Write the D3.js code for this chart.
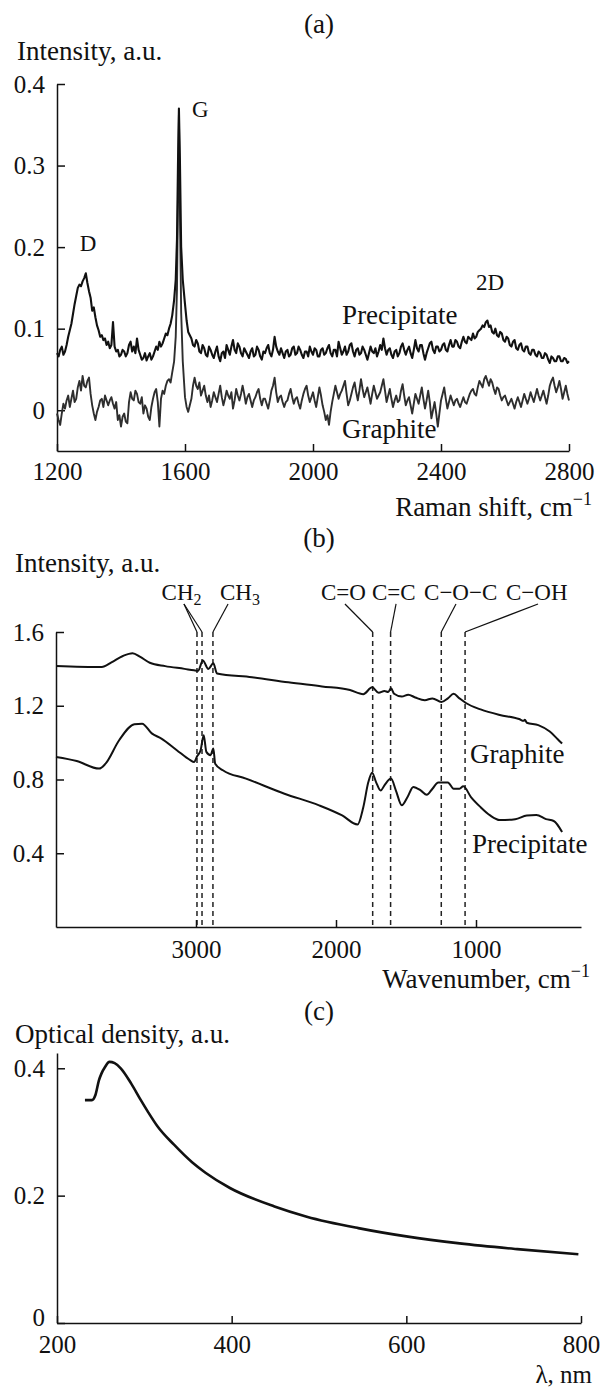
<!DOCTYPE html>
<html>
<head>
<meta charset="utf-8">
<script src="https://cdnjs.cloudflare.com/ajax/libs/d3/7.8.5/d3.min.js"></script>
<style>
  body { margin: 0; background: #fff; }
  svg text { font-family: "Liberation Serif", "Times New Roman", serif; fill: #111; }
</style>
</head>
<body>
<svg width="600" height="1389"></svg>
<script>
// ---- (a) Raman spectra ----
const ramanShift = [
  1200,1205,1210,1215,1220,1225,1230,1235,1240,1245,1250,1255,1260,1265,1270,1275,1280,1285,1290,1295,
  1300,1305,1310,1315,1320,1325,1330,1335,1340,1345,1350,1355,1360,1365,1370,1375,1380,1385,1390,1395,
  1400,1405,1410,1415,1420,1425,1430,1435,1440,1445,1450,1455,1460,1465,1470,1475,1480,1485,1490,1495,
  1500,1505,1510,1515,1520,1525,1530,1535,1540,1545,1550,1555,1560,
  1566,1571,1575,1578,1581,1584,1588,1593,
  1600,1605,1610,1615,1620,1625,1630,1635,1640,1645,1650,1655,1660,1665,1670,1675,1680,1685,1690,1695,
  1700,1705,1710,1715,1720,1725,1730,1735,1740,1745,1750,1755,1760,1765,1770,1775,1780,1785,1790,1795,
  1800,1805,1810,1815,1820,1825,1830,1835,1840,1845,1850,1855,1860,1865,1870,1875,1880,1885,1890,1895,
  1900,1905,1910,1915,1920,1925,1930,1935,1940,1945,1950,1955,1960,1965,1970,1975,1980,1985,1990,1995,
  2000,2005,2010,2015,2020,2025,2030,2035,2040,2045,2050,2055,2060,2065,2070,2075,2080,2085,2090,2095,
  2100,2105,2110,2115,2120,2125,2130,2135,2140,2145,2150,2155,2160,2165,2170,2175,2180,2185,2190,2195,
  2200,2205,2210,2215,2220,2225,2230,2235,2240,2245,2250,2255,2260,2265,2270,2275,2280,2285,2290,2295,
  2300,2305,2310,2315,2320,2325,2330,2335,2340,2345,2350,2355,2360,2365,2370,2375,2380,2385,2390,2395,
  2400,2405,2410,2415,2420,2425,2430,2435,2440,2445,2450,2455,2460,2465,2470,2475,2480,2485,2490,2495,
  2500,2505,2510,2515,2520,2525,2530,2535,2540,2545,2550,2555,2560,2565,2570,2575,2580,2585,2590,2595,
  2600,2605,2610,2615,2620,2625,2630,2635,2640,2645,2650,2655,2660,2665,2670,2675,2680,2685,2690,2695,
  2700,2705,2710,2715,2720,2725,2730,2735,2740,2745,2750,2755,2760,2765,2770,2775,2780,2785,2790,2795,
  2800
];
const ramanPrecipitate = [
  .070,.066,.074,.078,.068,.072,.080,.090,.098,.106,.118,.130,.140,.150,.154,.152,.158,.162,.168,.156,
  .146,.138,.122,.126,.114,.104,.098,.090,.092,.086,.088,.080,.084,.076,.080,.108,.078,.072,.074,.066,
  .068,.074,.072,.066,.070,.080,.084,.072,.078,.070,.088,.074,.068,.062,.064,.070,.061,.066,.070,.062,
  .066,.072,.078,.074,.084,.078,.082,.088,.094,.092,.100,.106,.116,
  .135,.160,.210,.300,.370,.310,.200,.160,
  .130,.110,.096,.092,.088,.080,.078,.086,.082,.072,.070,.080,.076,.068,.066,.078,.074,.068,.064,.072,
  .078,.066,.060,.070,.072,.064,.080,.074,.068,.078,.086,.074,.070,.082,.078,.070,.066,.076,.072,.068,
  .064,.072,.076,.066,.068,.078,.074,.066,.062,.072,.070,.076,.080,.070,.066,.074,.090,.078,.072,.068,
  .076,.070,.064,.072,.074,.066,.068,.076,.078,.068,.070,.078,.074,.068,.064,.072,.072,.066,.078,.072,
  .068,.076,.074,.066,.066,.074,.076,.068,.070,.076,.080,.070,.066,.074,.074,.066,.084,.076,.068,.072,
  .078,.068,.072,.080,.082,.072,.066,.074,.076,.068,.070,.078,.074,.068,.062,.070,.078,.072,.070,.076,
  .066,.072,.080,.074,.088,.076,.068,.074,.076,.068,.064,.072,.074,.066,.070,.078,.082,.074,.068,.074,
  .078,.070,.064,.074,.086,.076,.072,.080,.080,.070,.062,.070,.076,.082,.084,.074,.070,.078,.078,.072,
  .074,.080,.082,.074,.072,.080,.086,.078,.078,.086,.084,.078,.076,.084,.090,.084,.082,.090,.088,.086,
  .094,.088,.090,.096,.098,.100,.104,.102,.108,.110,.102,.104,.096,.094,.100,.092,.090,.096,.094,.086,
  .084,.090,.088,.080,.078,.084,.086,.076,.074,.080,.082,.074,.072,.078,.078,.070,.068,.074,.074,.068,
  .066,.072,.070,.064,.064,.070,.068,.062,.058,.066,.064,.060,.060,.066,.066,.060,.060,.064,.063,.058,
  .060
];
const ramanGraphite = [
  -.004,-.012,-.018,-.004,.008,.002,.012,.018,.004,.014,.024,.010,.014,.028,.036,.024,.042,.030,.028,.036,
  .040,.020,.006,-.004,-.012,-.002,.004,.012,.014,.004,.018,.012,.006,.012,.016,.008,.002,.010,-.012,-.006,
  -.020,-.008,-.004,-.014,-.016,.010,.022,.014,.012,.024,.020,.010,.008,.016,-.004,.006,.002,-.008,-.012,.004,
  .014,.022,.026,.010,-.020,.014,.024,.020,.030,.036,.038,.034,.046,
  .060,.090,.150,.260,.362,.250,.120,.060,
  .016,.004,-.002,.006,.014,.030,.040,.030,.026,.034,.018,.024,.030,.018,.010,.018,.004,.012,.022,.016,
  .010,.020,.030,.016,.006,.014,.024,.018,.014,.022,.002,.012,.026,.018,.012,.020,.030,.020,.008,.016,
  .020,.012,.004,.012,.016,.022,.026,.014,.006,.014,.014,.008,.002,.012,.024,.030,.040,.022,.010,.016,
  .018,.010,.004,.010,.012,.020,.026,.016,.008,.014,.016,.008,.002,.012,.020,.026,.030,.018,.010,.016,
  .022,.012,.004,.016,.028,.018,.006,-.002,-.012,-.006,-.018,-.002,.010,.020,.030,.022,.014,.020,.024,.030,
  .036,.020,.006,.012,.020,.028,.034,.022,.012,.024,.038,.026,.016,.022,.028,.018,.008,.020,.030,.022,
  .014,.018,.022,.030,.038,.024,.010,.018,.026,.014,.004,.012,.018,.010,.012,.024,.032,.018,.006,.012,
  .016,.006,-.004,.008,.020,.014,.008,.018,.028,.014,.002,.012,.024,.010,-.010,.000,.010,-.004,-.020,-.004,
  .012,.020,.028,.014,.002,.010,.018,.012,.006,.012,.014,.008,.004,.010,.016,.010,.008,.014,.020,.024,
  .026,.020,.018,.028,.036,.032,.028,.038,.042,.036,.030,.038,.034,.026,.020,.028,.026,.018,.012,.016,
  .018,.012,.006,.010,.014,.008,.002,.010,.016,.010,.004,.012,.020,.014,.008,.014,.022,.016,.010,.018,
  .026,.018,.012,.018,.024,.016,.008,.018,.030,.036,.040,.030,.022,.028,.036,.026,.014,.022,.030,.020,
  .012
];
const ramanXTicks = [1200, 1600, 2000, 2400, 2800];
const ramanYTicks = [0, 0.1, 0.2, 0.3, 0.4];

// ---- (b) IR spectra: [wavenumber, intensity] ----
const irGraphite = [
  [4000,1.416],[3673,1.410],[3604,1.435],[3522,1.470],[3453,1.485],[3398,1.465],[3330,1.433],[3220,1.415],
  [3082,1.400],[3014,1.392],[2985,1.390],[2951,1.445],[2912,1.400],[2876,1.430],[2850,1.375],[2600,1.355],
  [2341,1.327],[2100,1.305],[1900,1.285],[1805,1.263],[1742,1.300],[1695,1.270],[1654,1.280],[1627,1.275],
  [1607,1.295],[1585,1.265],[1530,1.250],[1484,1.260],[1434,1.245],[1366,1.230],[1311,1.240],[1247,1.220],
  [1201,1.240],[1160,1.265],[1118,1.240],[1072,1.215],[967,1.180],[830,1.150],[692,1.128],[660,1.118],
  [651,1.124],[637,1.108],[555,1.095],[473,1.060],[418,1.020],[385,0.995]
];
const irPrecipitate = [
  [4000,0.922],[3852,0.900],[3692,0.859],[3646,0.886],[3549,1.013],[3440,1.100],[3385,1.103],[3316,1.050],
  [3247,1.022],[3137,0.959],[3041,0.905],[3014,0.895],[2992,0.926],[2967,0.959],[2945,1.040],[2926,0.950],
  [2896,0.932],[2876,0.968],[2863,0.886],[2808,0.850],[2643,0.805],[2368,0.723],[2121,0.660],[1956,0.605],
  [1846,0.556],[1805,0.650],[1769,0.786],[1742,0.837],[1714,0.786],[1681,0.740],[1654,0.768],[1607,0.805],
  [1572,0.740],[1530,0.660],[1489,0.705],[1448,0.760],[1393,0.740],[1352,0.717],[1311,0.750],[1269,0.784],
  [1201,0.784],[1160,0.750],[1118,0.750],[1091,0.763],[1036,0.705],[967,0.650],[899,0.605],[830,0.580],
  [720,0.585],[637,0.605],[569,0.608],[500,0.585],[445,0.575],[385,0.515]
];
const irBands = [2993, 2957, 2879, 1738, 1610, 1248, 1078];
const irXTicks = [3000, 2000, 1000];
const irYTicks = [0.4, 0.8, 1.2, 1.6];

// ---- (c) UV-vis: [wavelength, optical density] ----
const uvSpectrum = [
  [232,0.350],[240,0.350],[244,0.358],[248,0.381],[251,0.392],[255,0.402],[260,0.410],[266,0.408],
  [273,0.400],[285,0.376],[296,0.350],[304,0.332],[315,0.309],[334,0.280],[355,0.252],[370,0.236],
  [398,0.212],[449,0.183],[486,0.167],[545,0.149],[600,0.136],[661,0.125],[727,0.116],[797,0.108]
];
const uvXTicks = [200, 400, 600, 800];
const uvYTicks = [0, 0.2, 0.4];

const svg = d3.select('svg');
const font = '"Liberation Serif", "Times New Roman", serif';
const ink = '#111';

const fmt = d => d === 0 ? '0' : d3.format('.1f')(d);

function axes(x, y, xTicks, yTicks, xPad) {
    const y0 = y.range()[0];
    const x0 = x.range()[0];
    const xg = svg.append('g')
        .attr('transform', `translate(0,${y0})`)
        .call(d3.axisBottom(x).tickValues(xTicks).tickFormat(d3.format('d'))
            .tickSizeInner(-7).tickSizeOuter(0).tickPadding(xPad));
    const yg = svg.append('g')
        .attr('transform', `translate(${x0},0)`)
        .call(d3.axisLeft(y).tickValues(yTicks).tickFormat(fmt)
            .tickSizeInner(-8).tickSizeOuter(0).tickPadding(12));
    [xg, yg].forEach(g => {
        g.attr('font-family', font).attr('font-size', 25);
        g.selectAll('.domain, .tick line').attr('stroke', ink).attr('stroke-width', 1.5);
        g.selectAll('text').attr('fill', ink);
    });
    return yg;
}

function label(x, y, str, size, anchor) {
    return svg.append('text')
        .attr('x', x).attr('y', y)
        .attr('font-size', size)
        .attr('text-anchor', anchor || 'start')
        .text(str);
}

function unitLabel(xEnd, y, main, sup, size) {
    const t = svg.append('text')
        .attr('x', xEnd).attr('y', y)
        .attr('font-size', size || 27)
        .attr('text-anchor', 'end');
    t.append('tspan').text(main);
    if (sup) t.append('tspan').attr('dy', -11).attr('font-size', 18).text(sup);
}

// ---------- (a) ----------
const xA = d3.scaleLinear().domain([1200, 2800]).range([57, 569]);
const yA = d3.scaleLinear().domain([-0.05, 0.4]).range([451, 84]);
axes(xA, yA, ramanXTicks, ramanYTicks, 11);

const nA = Math.min(ramanShift.length, ramanPrecipitate.length, ramanGraphite.length);
const lineA = d3.line().x(d => xA(d[0])).y(d => yA(d[1]));
svg.append('path')
    .datum(ramanShift.slice(0, nA).map((s, i) => [s, ramanGraphite[i]]))
    .attr('d', lineA).attr('fill', 'none')
    .attr('stroke', '#2e2e2e').attr('stroke-width', 1.9).attr('stroke-linejoin', 'round');
svg.append('path')
    .datum(ramanShift.slice(0, nA).map((s, i) => [s, ramanPrecipitate[i]]))
    .attr('d', lineA).attr('fill', 'none')
    .attr('stroke', ink).attr('stroke-width', 2.1).attr('stroke-linejoin', 'round');

label(319, 33, '(a)', 27, 'middle');
label(17, 60, 'Intensity, a.u.', 27);
unitLabel(592, 516, 'Raman shift, cm', '\u22121');
label(xA(1297), yA(0.195), 'D', 23, 'middle');
label(xA(1622), yA(0.36), 'G', 23);
label(xA(2509), yA(0.147), '2D', 23);
label(xA(2091), yA(0.106), 'Precipitate', 27);
label(xA(2091), yA(-0.034), 'Graphite', 27);

// ---------- (b) ----------
const xB = d3.scaleLinear().domain([4000, 250]).range([56, 581]);
const yB = d3.scaleLinear().domain([0, 1.6]).range([927, 632]);

svg.append('g').selectAll('line').data(irBands).enter().append('line')
    .attr('x1', d => xB(d)).attr('x2', d => xB(d))
    .attr('y1', yB(1.6)).attr('y2', yB(0))
    .attr('stroke', '#222').attr('stroke-width', 1.5).attr('stroke-dasharray', '5,4');

axes(xB, yB, irXTicks, irYTicks, 13);

const lineB = d3.line().x(d => xB(d[0])).y(d => yB(d[1])).curve(d3.curveMonotoneX);
[irGraphite, irPrecipitate].forEach(s => {
    svg.append('path').datum(s).attr('d', lineB).attr('fill', 'none')
        .attr('stroke', ink).attr('stroke-width', 2).attr('stroke-linejoin', 'round');
});

// band labels: text start, leader start, bands pointed at
const bandNotes = [
    { parts: ['CH', '2'], at: 3246, from: 3086, to: [0, 1] },
    { parts: ['CH', '3'], at: 2829, from: 2771, to: [2] },
    { parts: ['C=O'], at: 2107, from: 1936, to: [3] },
    { parts: ['C=C'], at: 1743, from: 1571, to: [4] },
    { parts: ['C\u2212O\u2212C'], at: 1371, from: 1143, to: [5] },
    { parts: ['C\u2212OH'], at: 786, from: 557, to: [6] }
];
bandNotes.forEach(n => {
    const t = svg.append('text').attr('x', xB(n.at)).attr('y', yB(1.773)).attr('font-size', 23);
    t.append('tspan').text(n.parts[0]);
    if (n.parts[1]) t.append('tspan').attr('dy', 5).attr('font-size', 16).text(n.parts[1]);
    n.to.forEach(k => {
        svg.append('line')
            .attr('x1', xB(n.from)).attr('y1', yB(1.752))
            .attr('x2', xB(irBands[k])).attr('y2', yB(1.6))
            .attr('stroke', ink).attr('stroke-width', 1.2);
    });
});

label(319, 547, '(b)', 27, 'middle');
label(15, 572, 'Intensity, a.u.', 27);
unitLabel(590, 988, 'Wavenumber, cm', '\u22121');
label(xB(1043), yB(0.89), 'Graphite', 27);
label(xB(1029), yB(0.40), 'Precipitate', 27);

// ---------- (c) ----------
const xC = d3.scaleLinear().domain([200, 800]).range([57, 581]);
const yC = d3.scaleLinear().domain([0, 0.424]).range([1323, 1053]);
const ygC = axes(xC, yC, uvXTicks, uvYTicks, 12.25);
ygC.selectAll('.tick text').filter(d => d === 0).attr('dy', '0.08em');

svg.append('path').datum(uvSpectrum)
    .attr('d', d3.line().x(d => xC(d[0])).y(d => yC(d[1])).curve(d3.curveMonotoneX))
    .attr('fill', 'none').attr('stroke', ink).attr('stroke-width', 2.6);

label(319, 1020, '(c)', 27, 'middle');
label(15, 1043, 'Optical density, a.u.', 27);
unitLabel(592, 1383, '\u03bb, nm', null, 25);
</script>
</body>
</html>
